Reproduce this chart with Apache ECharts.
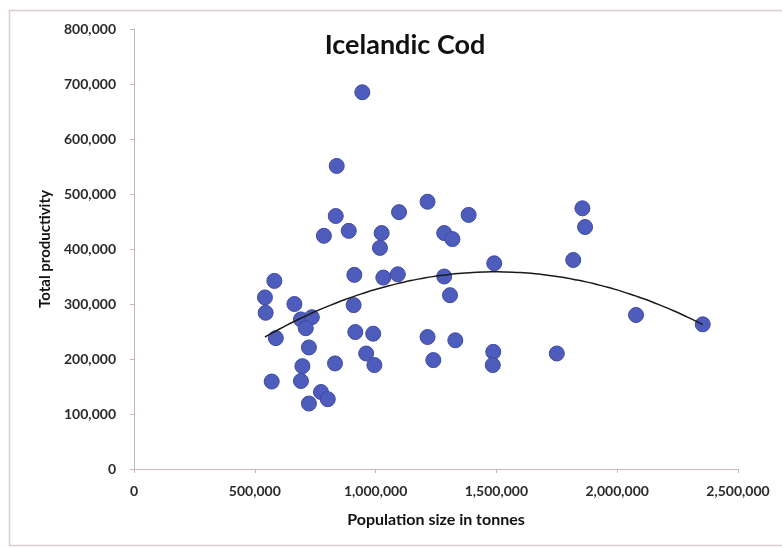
<!DOCTYPE html>
<html>
<head>
<meta charset="utf-8">
<script src="https://cdn.jsdelivr.net/npm/echarts@6/dist/echarts.min.js"></script>
<style>
html,body{margin:0;padding:0;background:#fff;}
#chart{width:782px;height:548px;}
</style>
</head>
<body>
<div id="chart"></div>
<script>
// Population size (tonnes) and total productivity
const populationSize = [
  542000, 545000, 581000, 587000, 570000, 664000, 691000, 736000, 711000, 724000,
  697000, 691000, 832000, 774000, 802000, 724000, 912000, 909000, 916000, 961000,
  995000, 990000, 945000, 839000, 835000, 889000, 786000, 1097000, 1025000, 1018000,
  1215000, 1385000, 1284000, 1318000, 1032000, 1092000, 1284000, 1308000, 1215000, 1330000,
  1239000, 1491000, 1487000, 1485000, 1856000, 1867000, 1818000, 2078000, 2354000, 1750000
];
const totalProductivity = [
  312000, 284000, 342000, 238000, 159000, 300000, 272000, 276000, 256000, 221000,
  187000, 160000, 192000, 140000, 127000, 119000, 353000, 298000, 249000, 210000,
  189000, 246000, 685000, 551000, 460000, 433000, 424000, 467000, 429000, 402000,
  486000, 462000, 429000, 418000, 348000, 354000, 350000, 316000, 240000, 234000,
  198000, 374000, 213000, 189000, 474000, 440000, 380000, 280000, 263000, 210000
];
const xTicks = { min: 0, max: 2500000, interval: 500000 };
const yTicks = { min: 0, max: 800000, interval: 100000 };
const chartTitle = 'Icelandic Cod';
const xName = 'Population size in tonnes';
const yName = 'Total productivity';

const points = populationSize.map((x, i) => [x, totalProductivity[i]]);

// Quadratic least-squares trend line (as Excel's polynomial trendline, order 2)
function quadFit(xs, ys) {
  const s = 1e6;
  let S = [0,0,0,0,0], T = [0,0,0];
  for (let i = 0; i < xs.length; i++) {
    const x = xs[i] / s, y = ys[i];
    let p = 1;
    for (let k = 0; k < 5; k++) { S[k] += p; if (k < 3) T[k] += p * y; p *= x; }
  }
  const A = [[S[0],S[1],S[2],T[0]],[S[1],S[2],S[3],T[1]],[S[2],S[3],S[4],T[2]]];
  for (let c = 0; c < 3; c++) {
    for (let r = c + 1; r < 3; r++) {
      const f = A[r][c] / A[c][c];
      for (let k = c; k < 4; k++) A[r][k] -= f * A[c][k];
    }
  }
  const b = [0,0,0];
  for (let r = 2; r >= 0; r--) {
    let v = A[r][3];
    for (let k = r + 1; k < 3; k++) v -= A[r][k] * b[k];
    b[r] = v / A[r][r];
  }
  return x => { const u = x / s; return b[0] + b[1]*u + b[2]*u*u; };
}
const fit = quadFit(populationSize, totalProductivity);
const xMinD = Math.min(...populationSize), xMaxD = Math.max(...populationSize);
const trend = [];
for (let i = 0; i <= 60; i++) {
  const x = xMinD + (xMaxD - xMinD) * i / 60;
  trend.push([x, fit(x)]);
}

const fmt = v => v.toLocaleString('en-US');
const axisColor = '#cdb3ba';
const fontFam = 'Lato, "Open Sans", sans-serif';

const chart = echarts.init(document.getElementById('chart'));
chart.setOption({
  animation: false,
  backgroundColor: '#fff',
  title: {
    text: chartTitle,
    left: 400, top: 27, textAlign: 'center',
    textStyle: { fontFamily: fontFam, fontSize: 27, fontWeight: 'bold', color: '#111' }
  },
  graphic: [{
    type: 'rect', shape: { x: 9.5, y: 10.5, width: 800, height: 535 },
    style: { fill: null, stroke: '#dccbd0', lineWidth: 1.5 }, silent: true, z: -1
  }],
  grid: { left: 134, right: 44, top: 29, bottom: 79 },
  xAxis: {
    type: 'value', min: xTicks.min, max: xTicks.max, interval: xTicks.interval,
    name: xName, nameLocation: 'middle', nameGap: 43,
    nameTextStyle: { fontFamily: fontFam, fontSize: 16, fontWeight: 'bold', color: '#111' },
    axisLine: { show: true, onZero: false, lineStyle: { color: axisColor, width: 1 } },
    axisTick: { show: true, length: 4, lineStyle: { color: axisColor } },
    splitLine: { show: false },
    axisLabel: { formatter: fmt, margin: 15, fontFamily: fontFam, fontSize: 14, fontWeight: 'bold', color: '#2a2a2a' }
  },
  yAxis: {
    type: 'value', min: yTicks.min, max: yTicks.max, interval: yTicks.interval,
    name: yName, nameLocation: 'middle', nameGap: 81, nameRotate: 90,
    nameTextStyle: { fontFamily: fontFam, fontSize: 15, fontWeight: 'bold', color: '#111' },
    axisLine: { show: true, onZero: false, lineStyle: { color: axisColor, width: 1 } },
    axisTick: { show: true, length: 4, lineStyle: { color: axisColor } },
    splitLine: { show: false },
    axisLabel: { formatter: fmt, margin: 18, fontFamily: fontFam, fontSize: 14, fontWeight: 'bold', color: '#2a2a2a' }
  },
  series: [
    {
      type: 'scatter', data: points, symbolSize: 15,
      itemStyle: { color: '#4e5cbc', borderColor: '#3e4aa6', borderWidth: 1, opacity: 1 }
    },
    {
      type: 'line', data: trend, showSymbol: false, smooth: true,
      lineStyle: { color: '#1a1a1a', width: 1.5 }, z: 3
    }
  ]
});
</script>
</body>
</html>
